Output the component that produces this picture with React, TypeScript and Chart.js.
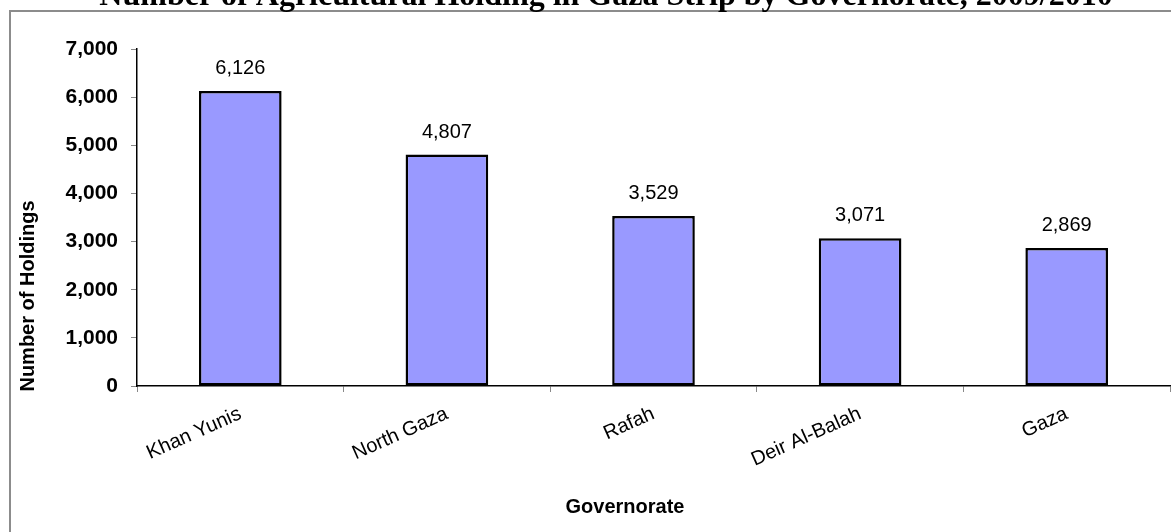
import React, { useEffect, useRef } from "react";
import { Chart, registerables } from "chart.js";

Chart.register(...registerables);

const categories = ["Khan Yunis", "North Gaza", "Rafah", "Deir Al-Balah", "Gaza"];
const holdings = [6126, 4807, 3529, 3071, 2869];
const yTicks = [0, 1000, 2000, 3000, 4000, 5000, 6000, 7000];
const titleText = "Number of Agricultural Holding in Gaza Strip by Governorate, 2009/2010";
const xTitle = "Governorate";
const yTitle = "Number of Holdings";

const SANS = "'Liberation Sans', Arial, sans-serif";
const SERIF = "'Liberation Serif', 'Times New Roman', serif";

const fmt = (v: number) => v.toLocaleString("en-US");

const decorPlugin = {
  id: "decor",
  beforeDraw(chart: any) {
    const ctx = chart.ctx;
    ctx.save();
    ctx.fillStyle = "#ffffff";
    ctx.fillRect(0, 0, chart.width, chart.height);
    ctx.strokeStyle = "#8c8c8c";
    ctx.lineWidth = 2;
    ctx.beginPath();
    ctx.moveTo(10, chart.height + 5);
    ctx.lineTo(10, 11);
    ctx.lineTo(chart.width + 5, 11);
    ctx.stroke();
    // title
    ctx.fillStyle = "#000";
    ctx.font = `bold 32px ${SERIF}`;
    ctx.textAlign = "center";
    ctx.textBaseline = "alphabetic";
    ctx.fillText(titleText, 606, 5);
    // axis titles
    ctx.font = `bold 20px ${SANS}`;
    ctx.textBaseline = "middle";
    ctx.fillText(xTitle, 625, 507);
    ctx.translate(28, 296);
    ctx.rotate(-Math.PI / 2);
    ctx.fillText(yTitle, 0, 0);
    ctx.restore();
  },
  afterDatasetsDraw(chart: any) {
    const ctx = chart.ctx;
    const meta = chart.getDatasetMeta(0);
    const data = chart.data.datasets[0].data as number[];
    ctx.save();
    ctx.fillStyle = "#000";
    ctx.font = `20px ${SANS}`;
    ctx.textAlign = "center";
    ctx.textBaseline = "alphabetic";
    meta.data.forEach((el: any, i: number) => {
      ctx.fillText(fmt(data[i]), el.x, el.y - 17);
    });
    ctx.restore();
  },
};

export default function App() {
  const ref = useRef<HTMLCanvasElement>(null);
  useEffect(() => {
    if (!ref.current) return;
    const chart = new Chart(ref.current, {
      type: "bar",
      data: {
        labels: categories,
        datasets: [
          {
            data: holdings,
            backgroundColor: "#9999FF",
            borderColor: "#000000",
            borderWidth: 2.5,
            borderSkipped: false,
            categoryPercentage: 1,
            barPercentage: 0.4,
          },
        ],
      },
      options: {
        responsive: false,
        animation: false,
        layout: { padding: { left: 0, top: 49, right: 1, bottom: 0 } },
        plugins: {
          legend: { display: false },
          tooltip: { enabled: false },
          title: { display: false },
        },
        scales: {
          x: {
            grid: {
              offset: true,
              drawOnChartArea: false,
              drawTicks: true,
              tickLength: 6,
              color: "#888888",
              lineWidth: 1,
            },
            border: { display: true, color: "#000000", width: 1.5 },
            ticks: {
              color: "#000",
              font: { family: SANS, size: 20 },
              minRotation: 24,
              maxRotation: 24,
              padding: 10,
              autoSkip: false,
            },
            afterFit: (s: any) => {
              s.height = 146;
            },
          },
          y: {
            min: 0,
            max: 7000,
            afterBuildTicks: (s: any) => {
              s.ticks = yTicks.map((v) => ({ value: v }));
            },
            grid: {
              drawOnChartArea: false,
              drawTicks: true,
              tickLength: 6,
              color: "#888888",
              lineWidth: 1,
            },
            border: { display: true, color: "#000000", width: 1.5 },
            ticks: {
              color: "#000",
              font: { family: SANS, size: 21, weight: "bold" },
              padding: 13,
              callback: (v: any) => fmt(Number(v)),
            },
            afterFit: (s: any) => {
              s.width = 137;
            },
          },
        },
      },
      plugins: [decorPlugin],
    });
    return () => chart.destroy();
  }, []);
  return (
    <div style={{ position: "absolute", left: 0, top: 0, width: 1171, height: 532 }}>
      <canvas ref={ref} width={1171} height={532} style={{ display: "block" }} />
    </div>
  );
}
